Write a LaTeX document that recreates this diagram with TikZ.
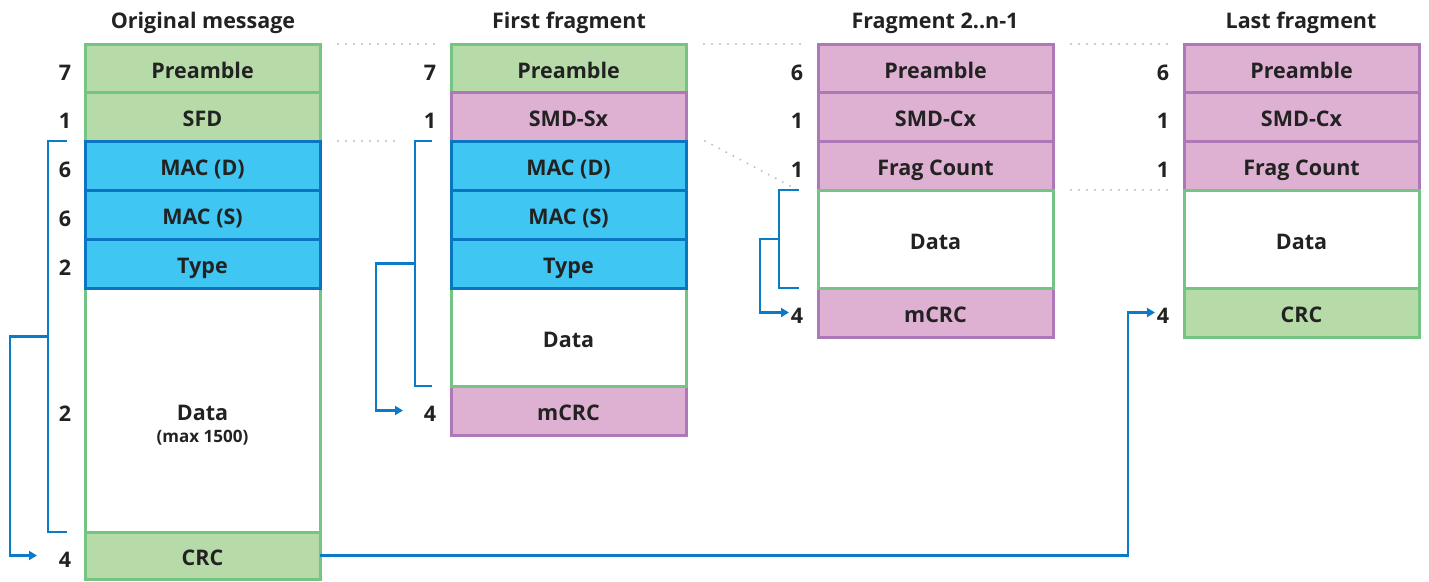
\documentclass[tikz,border=0pt]{standalone}
\usepackage{fontspec}
\setmainfont{Open Sans}
\usetikzlibrary{arrows.meta,calc}

\definecolor{grnfill}{HTML}{B7DBA8}
\definecolor{grnline}{HTML}{74C484}
\definecolor{pnkfill}{HTML}{DEB0D1}
\definecolor{pnkline}{HTML}{AE78B8}
\definecolor{blufill}{HTML}{40C6F2}
\definecolor{bluline}{HTML}{0A76C2}
\definecolor{linkblue}{HTML}{0A7BC9}
\definecolor{dotgray}{HTML}{BDBDBD}
\definecolor{ink}{HTML}{222222}

% one cell of a frame: name, left x, top y, bottom y, style, text
\newcommand\framecell[6]{%
  \node[cell,#5,minimum height={#4-#3}] (#1) at ({#2+117.5},{(#3+#4)/2}) {#6};}

\begin{document}
\begin{tikzpicture}[x=1pt,y=-1pt,
  capcentre/.style={text height=20.4pt,text depth=0pt},
  cell/.style={rectangle,draw,line width=3pt,minimum width=235pt,
    inner sep=0pt,outer sep=0pt,text=ink,capcentre,
    font=\fontsize{21.5}{24}\selectfont\bfseries},
  green/.style={fill=grnfill,draw=grnline},
  pink/.style={fill=pnkfill,draw=pnkline},
  blue/.style={fill=blufill,draw=bluline},
  empty/.style={fill=white,draw=grnline},
  title/.style={text=ink,inner sep=0pt,text height=16.4pt,text depth=0pt,
    font=\fontsize{21.5}{24}\selectfont\bfseries},
  num/.style={text=ink,inner sep=0pt,capcentre,font=\fontsize{21.5}{24}\selectfont\bfseries},
  link/.style={draw=linkblue,line width=2.3pt},
  arrowlink/.style={link,-{Triangle[length=8pt,width=9pt]}},
  dots/.style={draw=dotgray,line width=2.2pt,line cap=round,dash pattern=on 0pt off 8pt},
]
\useasboundingbox (0,0) rectangle (1429,581);

% ---- titles
\node[title] (t1) at (203,20) {Original message};
\node[title] (t2) at (569,20) {First fragment};
\node[title] (t3) at (935,20) {Fragment 2..n-1};
\node[title] (t4) at (1301,20) {Last fragment};

% ---- original message
\framecell{o1}{85}{44}{92}{green}{Preamble}
\framecell{o2}{85}{92}{141}{green}{SFD}
\framecell{o6}{85}{288}{532}{empty}{Data}
\framecell{o7}{85}{532}{579}{green}{CRC}
\framecell{o3}{85}{141}{190}{blue}{MAC (D)}
\framecell{o4}{85}{190}{239}{blue}{MAC (S)}
\framecell{o5}{85}{239}{288}{blue}{Type}
\node[text=ink,inner sep=0pt,text height=14pt,text depth=0pt,
  font=\fontsize{17}{19}\selectfont\bfseries] (omax) at (202.5,435) {(max 1500)};

% ---- first fragment
\framecell{f1}{451}{44}{92}{green}{Preamble}
\framecell{f2}{451}{92}{141}{pink}{SMD-Sx}
\framecell{f7}{451}{386}{435}{pink}{mCRC}
\framecell{f6}{451}{288}{386}{empty}{Data}
\framecell{f3}{451}{141}{190}{blue}{MAC (D)}
\framecell{f4}{451}{190}{239}{blue}{MAC (S)}
\framecell{f5}{451}{239}{288}{blue}{Type}

% ---- middle fragments
\framecell{m1}{818}{44}{92}{pink}{Preamble}
\framecell{m2}{818}{92}{141}{pink}{SMD-Cx}
\framecell{m3}{818}{141}{190}{pink}{Frag Count}
\framecell{m5}{818}{288}{337}{pink}{mCRC}
\framecell{m4}{818}{190}{288}{empty}{Data}

% ---- last fragment
\framecell{l1}{1184}{44}{92}{pink}{Preamble}
\framecell{l2}{1184}{92}{141}{pink}{SMD-Cx}
\framecell{l3}{1184}{141}{190}{pink}{Frag Count}
\framecell{l4}{1184}{190}{288}{empty}{Data}
\framecell{l5}{1184}{288}{337}{green}{CRC}

% ---- byte counts
\node[num] (no1) at (65,70) {7};
\node[num] (no2) at (65,118) {1};
\node[num] (no3) at (65,167) {6};
\node[num] (no4) at (65,216) {6};
\node[num] (no5) at (65,265) {2};
\node[num] (no6) at (65,411) {2};
\node[num] (no7) at (65,557) {4};

\node[num] (nf1) at (430,70) {7};
\node[num] (nf2) at (430,118) {1};
\node[num] (nf7) at (430,411) {4};

\node[num] (nm1) at (797,70) {6};
\node[num] (nm2) at (797,118) {1};
\node[num] (nm3) at (797,167) {1};
\node[num] (nm5) at (797,313) {4};

\node[num] (nl1) at (1163,70) {6};
\node[num] (nl2) at (1163,118) {1};
\node[num] (nl3) at (1163,167) {1};
\node[num] (nl5) at (1163,313) {4};

% ---- dotted guides between frames
\draw[dots] ($(o1.north east)+(18,0)$) -- ($(f1.north west)+(-16,0)$);
\draw[dots] ($(o3.north east)+(18,0)$) -- ($(f3.north west)+(-56,0)$);
\draw[dots] ($(f1.north east)+(18,0)$) -- ($(m1.north west)+(-18,0)$);
\draw[dots] ($(f3.north east)+(19,0)$) -- ($(m4.north west)+(-20,0)$);
\draw[dots] ($(m1.north east)+(18,0)$) -- ($(l1.north west)+(-16,0)$);
\draw[dots] ($(m4.north east)+(18,0)$) -- ($(l4.north west)+(-17,0)$);

% ---- CRC coverage brackets
\draw[link] ($(o3.north west)+(-18,0)$) -| ($(o6.south west)+(-37,0)$) -- ($(o6.south west)+(-18,0)$);
\draw[arrowlink] ($(o3.north west)!.5!(o6.south west)+(-37,0)$) -| ($(o7.west)+(-75,0)$) -- ($(o7.west)+(-48,0)$);

\draw[link] ($(f3.north west)+(-19,0)$) -| ($(f6.south west)+(-36,0)$) -- ($(f6.south west)+(-19,0)$);
\draw[arrowlink] ($(f3.north west)!.5!(f6.south west)+(-36,0)$) -| ($(f7.west)+(-75,0)$) -- ($(f7.west)+(-48,0)$);

\draw[link] ($(m4.north west)+(-19,0)$) -| ($(m4.south west)+(-39,0)$) -- ($(m4.south west)+(-19,0)$);
\draw[arrowlink] ($(m4.west)+(-39,0)$) -| ($(m5.west)+(-58,0)$) -- ($(m5.west)+(-29,0)$);

% ---- original CRC carried to the last fragment
\draw[arrowlink] (o7.east) -| ($(l5.west)+(-56,0)$) -- ($(l5.west)+(-29,0)$);
\end{tikzpicture}
\end{document}
